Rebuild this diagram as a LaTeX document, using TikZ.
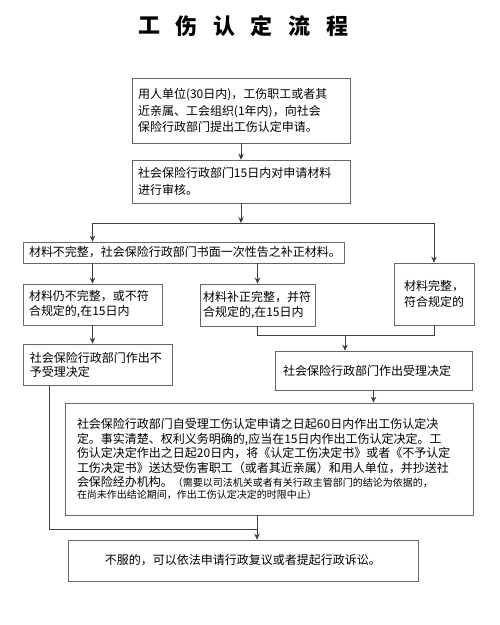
\documentclass[tikz,border=0pt]{standalone}
\usepackage{fontspec}
\setmainfont{Noto Sans CJK SC}
\usetikzlibrary{arrows.meta}

\begin{document}
\begin{tikzpicture}[x=1pt,y=-1pt,>={Stealth[length=6pt,width=5.5pt]},
  flow box/.style={rectangle,draw=black!60,line width=0.7pt,align=left,inner ysep=0pt,
    font=\fontsize{12}{15}\selectfont},
  flow line/.style={draw=black!75,line width=0.7pt}]
  \useasboundingbox (0,0) rectangle (500,625);

  % title
  \foreach \c [count=\i] in {工,伤,认,定,流,程}
    \node[font=\fontsize{22}{22}\selectfont\bfseries] (t\i) at ({149+37.6*(\i-1)},26) {\c};

  \node[flow box, inner xsep=6pt, text width=206pt, minimum height=65pt,
    font=\fontsize{12}{16.5}\selectfont] (b1) at (241,110.5)
    {用人单位(30日内)，工伤职工或者其\\近亲属、工会组织(1年内)，向社会\\保险行政部门提出工伤认定申请。};
  \node[flow box, inner xsep=6pt, text width=206pt, minimum height=43pt,
    font=\fontsize{12}{17}\selectfont] (b2) at (241,181.5)
    {社会保险行政部门15日内对申请材料\\进行审核。};
  \node[flow box, inner xsep=6pt, text width=309pt, minimum height=21pt] (b3) at (183.5,252.5)
    {材料不完整，社会保险行政部门书面一次性告之补正材料。};
  \node[flow box, inner xsep=6pt, text width=127pt, minimum height=41pt] (b4) at (92.5,304.5)
    {材料仍不完整，或不符\\合规定的,在15日内};
  \node[flow box, inner xsep=3pt, text width=109pt, minimum height=42pt] (b5) at (257.5,305)
    {材料补正完整，并符\\合规定的,在15日内};
  \node[flow box, inner xsep=10pt, text width=60pt, minimum height=62pt,
    font=\fontsize{12}{16}\selectfont] (b6) at (434,294)
    {材料完整，\\符合规定的};
  \node[flow box, inner xsep=7pt, text width=135pt, minimum height=41pt,
    font=\fontsize{12}{14}\selectfont] (b9) at (97.5,364.5)
    {社会保险行政部门作出不\\予受理决定};
  \node[flow box, inner xsep=8pt, text width=181pt, minimum height=39pt] (b7) at (373.5,370.5)
    {社会保险行政部门作出受理决定};
  \node[flow box, inner xsep=12pt, text width=384pt, minimum height=112pt,
    font=\fontsize{12}{14.5}\selectfont] (b8) at (269,459)
    {社会保险行政部门自受理工伤认定申请之日起60日内作出工伤认定决\\
     定。事实清楚、权利义务明确的,应当在15日内作出工伤认定决定。工\\
     伤认定决定作出之日起20日内，将《认定工伤决定书》或者《不予认定\\
     工伤决定书》送达受伤害职工（或者其近亲属）和用人单位，并抄送社\\
     会保险经办机构。{\fontsize{10}{12}\selectfont（需要以司法机关或者有关行政主管部门的结论为依据的，}\\[-3pt]
     {\fontsize{10}{12}\selectfont 在尚未作出结论期间，作出工伤认定决定的时限中止）}};
  \node[flow box, align=center, inner xsep=6pt, text width=338pt, minimum height=41pt] (b10) at (243,560.5)
    {不服的，可以依法申请行政复议或者提起行政诉讼。};

  \coordinate (split) at (241,223);
  \coordinate (merge) at (345,335);
  \coordinate (back) at (49,529);
  \coordinate (join) at (257,529);

  \path[flow line]
    (b1) edge [->] (b2)
    (b2) edge [->] (split);
  \draw[flow line, <->] (b3.north -| b4) |- (b6 |- split) -- (b6.north);
  \draw[flow line, ->] (b3.south -| b4) -- (b4);
  \draw[flow line, ->] (b3.south -| b5) -- (b5);
  \draw[flow line, ->] (b4.south) -- (b9.north -| b4);
  \draw[flow line] (b5.south) |- (b6 |- merge) -- (b6.south);
  \draw[flow line, ->] (merge) -- (merge |- b7.north);
  \draw[flow line, ->] (b7) -- (b7 |- b8.north);
  \draw[flow line] (b9.south -| back) -- (back) -- (join);
  \draw[flow line, ->] (b8.south -| join) -- (b10.north -| join);
\end{tikzpicture}
\end{document}
